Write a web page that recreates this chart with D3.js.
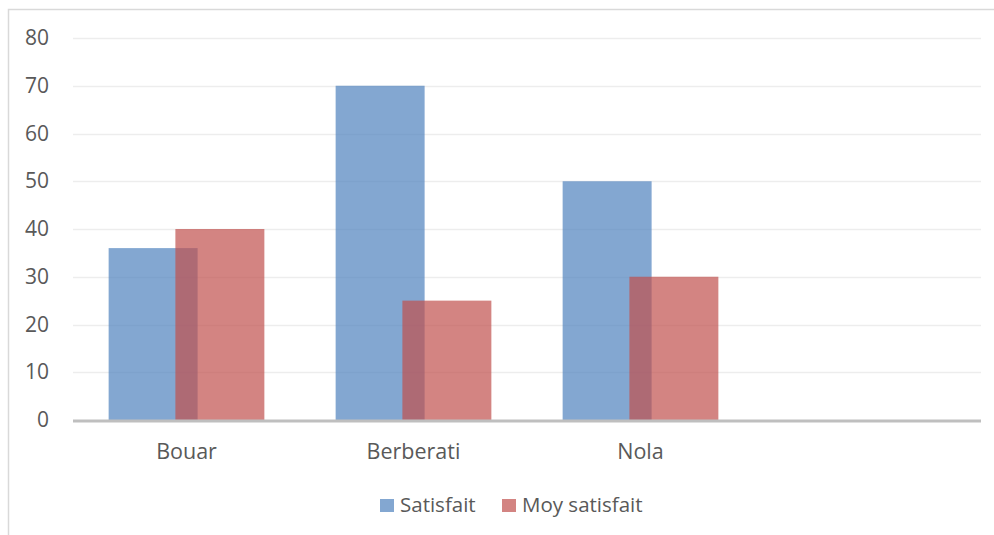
<!DOCTYPE html>
<html>
<head>
<meta charset="utf-8">
<script src="https://cdn.jsdelivr.net/npm/d3@7/dist/d3.min.js"></script>
<style>
  html, body { margin: 0; padding: 0; background: #fff; }
  svg { display: block; }
  text { font-family: "Open Sans", "Liberation Sans", sans-serif; fill: #595959; }
</style>
</head>
<body>
<svg id="chart" width="994" height="535"></svg>
<script>
// Categories (the last slot is empty), series and axis ticks
const categories = ["Bouar", "Berberati", "Nola", ""];
const satisfait = [36, 70, 50, null];
const moySatisfait = [40, 25, 30, null];
const yTicks = [0, 10, 20, 30, 40, 50, 60, 70, 80];
const seriesNames = ["Satisfait", "Moy satisfait"];
const seriesColors = ["#4f81bd", "#c0504d"];

const svg = d3.select("#chart");
const W = 994, H = 535;

// Chart frame (left and top edges visible)
svg.append("path")
  .attr("d", `M8.5,${H} L8.5,9.5 L${W},9.5`)
  .attr("fill", "none")
  .attr("stroke", "#d9d9d9")
  .attr("stroke-width", 1.5);

const plot = { left: 73, right: 981, top: 38, bottom: 420 };

const x = d3.scaleBand()
  .domain(d3.range(categories.length))
  .range([plot.left, plot.right])
  .paddingInner(0)
  .paddingOuter(0);

const y = d3.scaleLinear()
  .domain([0, 80])
  .range([plot.bottom, plot.top]);

// Horizontal gridlines
svg.append("g")
  .selectAll("line")
  .data(yTicks.filter(d => d > 0))
  .join("line")
  .attr("x1", plot.left)
  .attr("x2", plot.right)
  .attr("y1", d => Math.round(y(d)) + 0.5)
  .attr("y2", d => Math.round(y(d)) + 0.5)
  .attr("stroke", "#ededed")
  .attr("stroke-width", 1.5);

// Y axis labels
const yAxis = d3.axisLeft(y).tickValues(yTicks).tickSize(0).tickPadding(0);
const gy = svg.append("g").attr("transform", `translate(49,0)`).call(yAxis);
gy.select(".domain").remove();
gy.selectAll("text")
  .attr("font-size", 21)
  .attr("fill", "#595959")
  .attr("font-family", "'Open Sans', 'Liberation Sans', sans-serif");

// Bars: each category holds two overlapping bars
const band = x.bandwidth();
const barW = band * 0.392;
const overlap = barW * 0.25;
const groupW = barW * 2 - overlap;
const groupOffset = (band - groupW) / 2;

const seriesData = [satisfait, moySatisfait];
seriesData.forEach((vals, si) => {
  svg.append("g")
    .selectAll("rect")
    .data(vals.map((v, i) => ({ v, i })).filter(d => d.v !== null))
    .join("rect")
    .attr("x", d => x(d.i) + groupOffset + si * (barW - overlap))
    .attr("y", d => y(d.v))
    .attr("width", barW)
    .attr("height", d => y(0) - y(d.v))
    .attr("fill", seriesColors[si])
    .attr("fill-opacity", 0.7);
});

// Baseline at zero
svg.append("line")
  .attr("x1", plot.left)
  .attr("x2", plot.right)
  .attr("y1", y(0) + 1)
  .attr("y2", y(0) + 1)
  .attr("stroke", "#bfbfbf")
  .attr("stroke-width", 3);

// Category labels
const xAxis = d3.axisBottom(x).tickFormat(i => categories[i]).tickSize(0).tickPadding(0);
const gx = svg.append("g").attr("transform", `translate(0,459)`).call(xAxis);
gx.select(".domain").remove();
gx.selectAll("text")
  .attr("dy", 0)
  .attr("font-size", 21.5)
  .attr("fill", "#595959")
  .attr("font-family", "'Open Sans', 'Liberation Sans', sans-serif");

// Legend
const legend = svg.append("g");
const legendItems = [
  { name: seriesNames[0], color: seriesColors[0], x: 380 },
  { name: seriesNames[1], color: seriesColors[1], x: 502 }
];
legendItems.forEach(it => {
  legend.append("rect")
    .attr("x", it.x).attr("y", 499)
    .attr("width", 14).attr("height", 13)
    .attr("fill", it.color).attr("fill-opacity", 0.7);
  legend.append("text")
    .attr("x", it.x + 20).attr("y", 512)
    .attr("font-size", 20.5)
    .text(it.name);
});
</script>
</body>
</html>
